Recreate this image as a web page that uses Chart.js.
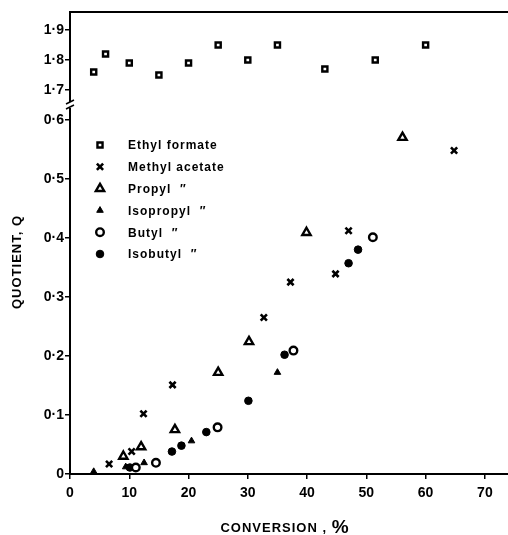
<!DOCTYPE html>
<html>
<head>
<meta charset="utf-8">
<script src="https://cdn.jsdelivr.net/npm/chart.js@4.4.0/dist/chart.umd.min.js"></script>
<style>
  html, body { margin: 0; padding: 0; background: #fff; }
  #wrap { width: 508px; height: 535px; }
</style>
</head>
<body>
<div id="wrap"><canvas id="chart"></canvas></div>
<script>
// values (conversion %, quotient Q)
const ethylX = [4, 6, 10, 15, 20, 25, 30, 35, 43, 51.5, 60]
const ethylQ = [1.76, 1.82, 1.79, 1.75, 1.79, 1.85, 1.80, 1.85, 1.77, 1.80, 1.85]

const methylX = [6.6, 10.4, 12.4, 17.3, 32.7, 37.2, 44.8, 47.0, 64.8]
const methylQ = [0.017, 0.038, 0.102, 0.151, 0.265, 0.325, 0.339, 0.412, 0.548]

const propylX = [9.0, 12.0, 17.7, 25.0, 30.2, 39.9, 56.1]
const propylQ = [0.030, 0.046, 0.075, 0.172, 0.224, 0.409, 0.570]

const isopropylX = [4.0, 9.4, 12.5, 20.5, 35.0]
const isopropylQ = [0.004, 0.012, 0.019, 0.056, 0.172]

const butylX = [11.1, 14.5, 24.9, 37.7, 51.1]
const butylQ = [0.011, 0.019, 0.079, 0.209, 0.401]

const isobutylX = [10.1, 17.2, 18.8, 23.0, 30.1, 36.2, 47.0, 48.6]
const isobutylQ = [0.011, 0.038, 0.048, 0.071, 0.124, 0.202, 0.357, 0.380]

const xTicks = [0, 10, 20, 30, 40, 50, 60, 70]
const lowTicks = [0, 0.1, 0.2, 0.3, 0.4, 0.5, 0.6]
const highTicks = [1.7, 1.8, 1.9]

const seriesNames = ['Ethyl formate', 'Methyl acetate', 'Propyl  \u2033', 'Isopropyl  \u2033', 'Butyl  \u2033', 'Isobutyl  \u2033']

function pts(xs, ys) {
  return xs.map((x, i) => ({x: x, y: ys[i]}))
}

const FONT = "'Liberation Sans', Arial, sans-serif"
const tickFont = {family: FONT, size: 14, weight: 'bold'}

function fmt(v) {
  if (Math.abs(v) < 1e-9) return '0'
  return v.toFixed(1).replace('.', '\u00b7')
}

const styles = [
  {pointStyle: 'rect', pointRadius: 3.6, pointBorderWidth: 2.4, pointBackgroundColor: '#fff', yAxisID: 'yHigh'},
  {pointStyle: 'crossRot', pointRadius: 4.4, pointBorderWidth: 2.6, pointBackgroundColor: '#000', yAxisID: 'yLow'},
  {pointStyle: 'triangle', pointRadius: 4.8, pointBorderWidth: 2.4, pointBackgroundColor: '#fff', yAxisID: 'yLow'},
  {pointStyle: 'triangle', pointRadius: 3.8, pointBorderWidth: 1, pointBackgroundColor: '#000', yAxisID: 'yLow'},
  {pointStyle: 'circle', pointRadius: 3.8, pointBorderWidth: 2.4, pointBackgroundColor: '#fff', yAxisID: 'yLow'},
  {pointStyle: 'circle', pointRadius: 3.8, pointBorderWidth: 1, pointBackgroundColor: '#000', yAxisID: 'yLow'}
]

const seriesData = [
  pts(ethylX, ethylQ), pts(methylX, methylQ), pts(propylX, propylQ),
  pts(isopropylX, isopropylQ), pts(butylX, butylQ), pts(isobutylX, isobutylQ)
]

const data = {
  datasets: seriesNames.map((name, i) => Object.assign({
    label: name,
    data: seriesData[i],
    pointBorderColor: '#000',
    showLine: false,
    clip: false
  }, styles[i]))
}

// legend, axis titles, top frame line and the axis break mark
const extras = {
  id: 'extras',
  afterDraw(chart) {
    const ctx = chart.ctx
    const a = chart.chartArea
    ctx.save()
    ctx.strokeStyle = '#000'
    ctx.fillStyle = '#000'
    ctx.lineWidth = 2
    ctx.beginPath()
    ctx.moveTo(a.left, a.top)
    ctx.lineTo(a.right, a.top)
    ctx.stroke()

    // break mark
    const by = chart.scales.yLow.top
    ctx.lineWidth = 1.5
    ctx.fillStyle = '#fff'
    ctx.fillRect(a.left - 3, by - 3, 6, 6)
    ctx.beginPath()
    ctx.moveTo(a.left - 4, by - 1); ctx.lineTo(a.left + 4, by - 5)
    ctx.moveTo(a.left - 4, by + 4); ctx.lineTo(a.left + 4, by)
    ctx.stroke()

    // legend
    ctx.font = 'bold 12px ' + FONT
    ctx.letterSpacing = '1px'
    ctx.textBaseline = 'middle'
    ctx.textAlign = 'left'
    chart.data.datasets.forEach((ds, i) => {
      const y = 145 + i * 21.8
      ctx.fillStyle = ds.pointBackgroundColor
      ctx.strokeStyle = '#000'
      ctx.lineWidth = ds.pointBorderWidth
      Chart.helpers.drawPoint(ctx, {pointStyle: ds.pointStyle, radius: ds.pointRadius, borderWidth: ds.pointBorderWidth, rotation: 0}, 100, y)
      ctx.fillStyle = '#000'
      ctx.fillText(ds.label, 128, y + 1)
    })

    // x title
    ctx.textBaseline = 'alphabetic'
    const t1 = 'CONVERSION , '
    ctx.font = 'bold 13px ' + FONT
    const w1 = ctx.measureText(t1).width
    ctx.font = 'bold 19px ' + FONT
    const w2 = ctx.measureText('%').width
    let sx = 285 - (w1 + w2) / 2
    ctx.font = 'bold 13px ' + FONT
    ctx.fillText(t1, sx, 532)
    ctx.font = 'bold 19px ' + FONT
    ctx.fillText('%', sx + w1, 533)

    // y title
    ctx.translate(21, 262)
    ctx.rotate(-Math.PI / 2)
    ctx.font = 'bold 13px ' + FONT
    ctx.textAlign = 'center'
    ctx.fillText('QUOTIENT, Q', 0, 0)
    ctx.restore()
  }
}

const yCommon = {
  type: 'linear',
  position: 'left',
  stack: 'q',
  grid: {drawOnChartArea: false, color: '#000', tickLength: 5, lineWidth: 1.5},
  border: {color: '#000', width: 2},
  ticks: {color: '#000', font: tickFont, padding: 1, callback: v => fmt(v)},
  afterFit(scale) { scale.width = 70 }
}

const config = {
  type: 'scatter',
  data: data,
  plugins: [extras],
  options: {
    responsive: false,
    animation: false,
    layout: {autoPadding: false, padding: {top: 12, right: 0, left: 0, bottom: 0}},
    plugins: {legend: {display: false}, tooltip: {enabled: false}},
    scales: {
      x: {
        type: 'linear',
        min: 0,
        max: 73.9,
        grid: {drawOnChartArea: false, color: '#000', tickLength: 5, lineWidth: 1.5},
        border: {color: '#000', width: 2},
        ticks: {color: '#000', font: tickFont, padding: 6, maxRotation: 0},
        afterBuildTicks(scale) { scale.ticks = xTicks.map(v => ({value: v})) },
        afterFit(scale) {
          scale.height = 61
          scale.paddingRight = 0
          scale.paddingLeft = 0
        }
      },
      yLow: Object.assign({}, yCommon, {
        min: 0,
        max: 0.625,
        stackWeight: 369,
        afterBuildTicks(scale) { scale.ticks = lowTicks.map(v => ({value: v})) }
      }),
      yHigh: Object.assign({}, yCommon, {
        min: 1.65,
        max: 1.96,
        stackWeight: 93,
        afterBuildTicks(scale) { scale.ticks = highTicks.map(v => ({value: v})) }
      })
    }
  }
}

const canvas = document.getElementById('chart')
canvas.width = 508
canvas.height = 535
let myChart = new Chart(canvas, config)
</script>
</body>
</html>
